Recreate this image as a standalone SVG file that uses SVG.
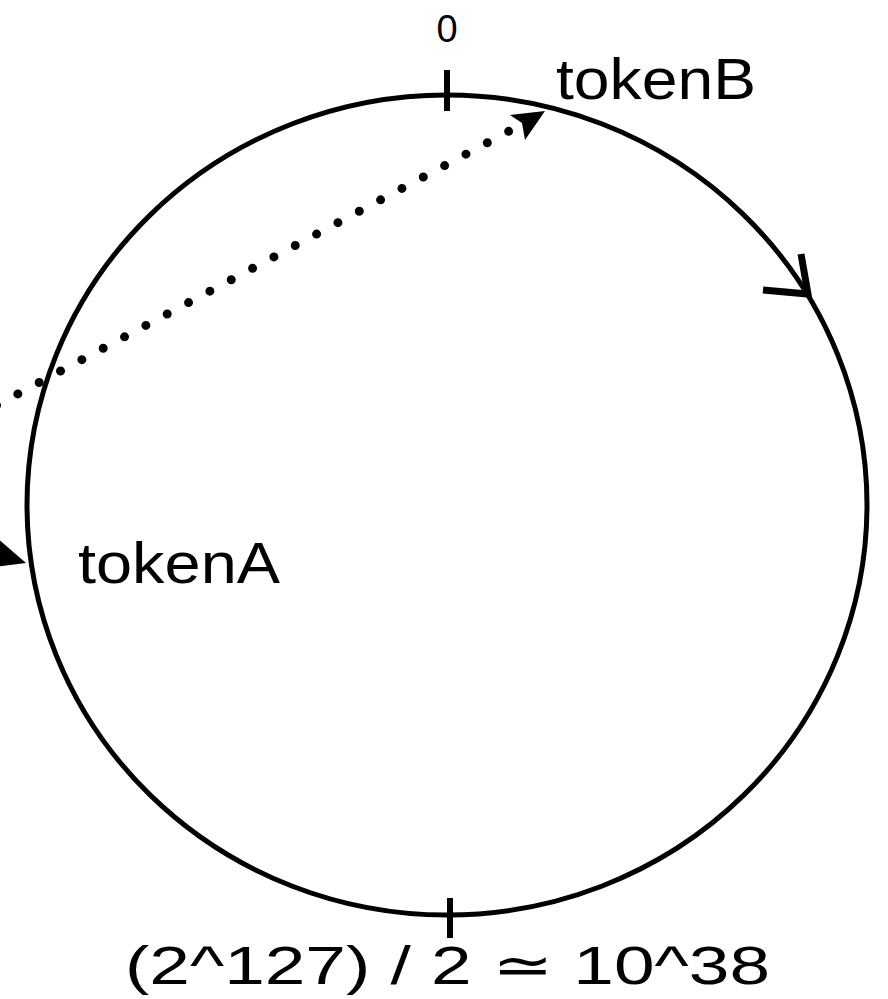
<svg xmlns="http://www.w3.org/2000/svg" width="888" height="999" viewBox="0 0 888 999">
<style>
.lbl{font-family:"Liberation Sans","DejaVu Sans",sans-serif;fill:#000}
.ring{fill:none;stroke:#000;stroke-width:5}
.tick{stroke:#000;stroke-width:6}
.dots{fill:none;stroke:#000;stroke-width:9;stroke-linecap:round;stroke-dasharray:0 24.2}
.head{fill:#000}
.open{fill:none;stroke:#000;stroke-width:7;stroke-linejoin:miter}
</style>
<rect width="888" height="999" fill="#fff"/>
<g id="ring">
<ellipse class="ring" cx="447" cy="505" rx="420" ry="410"/>
<line class="tick" x1="447" y1="70" x2="447" y2="111"/>
<line class="tick" x1="450" y1="898" x2="450" y2="938"/>
<polyline class="open" points="763,290 808,294 801,254"/>
</g>
<g id="connectors">
<path class="dots" d="M-3.5 405.3 L525 122.6"/>
<polygon class="head" points="545,111 510,115 522,123 525,140"/>
<polygon class="head" points="-4,537 26,563 -6,567"/>
</g>
<g id="label-zero"><text class="lbl" x="447" y="42" font-size="38" text-anchor="middle">0</text></g>
<g id="label-tokenB"><text class="lbl" x="556" y="99" font-size="58" textLength="200" lengthAdjust="spacingAndGlyphs">tokenB</text></g>
<g id="label-tokenA"><text class="lbl" x="78" y="583" font-size="58" textLength="202" lengthAdjust="spacingAndGlyphs">tokenA</text></g>
<g id="label-range"><text class="lbl" x="125" y="984" font-size="54" textLength="645" lengthAdjust="spacingAndGlyphs">(2^127) / 2 ≃ 10^38</text></g>
</svg>
